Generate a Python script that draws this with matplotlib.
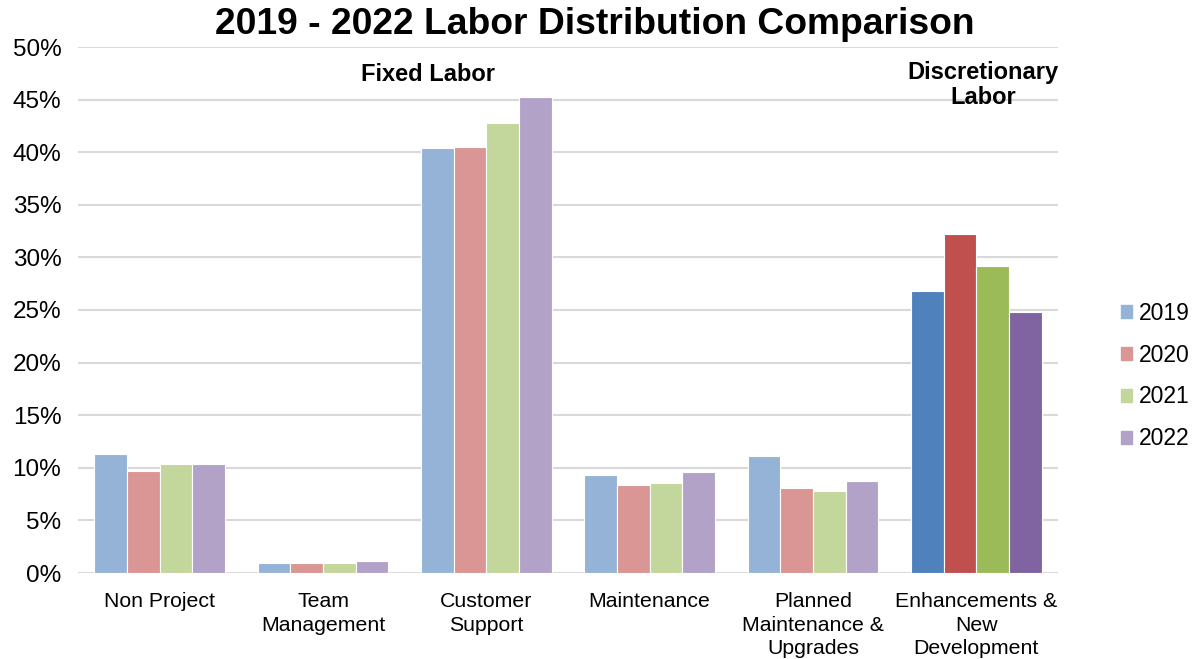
import numpy as np
import matplotlib.pyplot as plt

plt.rcParams['font.family'] = ['Liberation Sans', 'DejaVu Sans']

# categories and values (percent)
categories = ['Non Project', 'Team\nManagement', 'Customer\nSupport', 'Maintenance',
              'Planned\nMaintenance &\nUpgrades', 'Enhancements &\nNew\nDevelopment']
years = ['2019', '2020', '2021', '2022']
v2019 = [11.3, 0.95, 40.4, 9.3, 11.1, 26.8]
v2020 = [9.65, 0.95, 40.5, 8.4, 8.1, 32.2]
v2021 = [10.4, 0.95, 42.8, 8.6, 7.8, 29.2]
v2022 = [10.4, 1.1, 45.2, 9.6, 8.75, 24.8]
values = [v2019, v2020, v2021, v2022]

light = ['#95B3D7', '#D99694', '#C3D69B', '#B3A2C7']
dark = ['#4F81BD', '#C0504D', '#9BBB59', '#8064A2']

fig = plt.figure(figsize=(11.99, 6.59), dpi=100)
ax = fig.add_axes([78 / 1199, 1 - 573 / 659, 980 / 1199, 526 / 659])

x = np.arange(len(categories))
w = 0.2
for i, yr in enumerate(years):
    cols = [light[i]] * (len(categories) - 1) + [dark[i]]
    ax.bar(x + (i - 1.5) * w, values[i], w, color=cols, edgecolor='white',
           linewidth=0.8, label=yr, zorder=3)

ax.set_xlim(-0.5, len(categories) - 0.5)
ax.set_ylim(0, 50)
ax.set_yticks(np.arange(0, 51, 5))
ax.set_yticklabels([f'{t}%' for t in range(0, 51, 5)], fontsize=17.5)
ax.set_xticks(x)
ax.set_xticklabels(categories, fontsize=15.3, linespacing=1.3)
ax.tick_params(axis='y', length=0, pad=12)
ax.tick_params(axis='x', length=0, pad=14)
ax.grid(axis='y', color='#D9D9D9', linewidth=1.5, zorder=0)
for s in ['top', 'right', 'left', 'bottom']:
    ax.spines[s].set_visible(False)

ax.text(1.64, 47.4, 'Fixed Labor', fontsize=17, fontweight='bold', ha='center', va='center')
ax.text(5.04, 46.4, 'Discretionary\nLabor', fontsize=17, fontweight='bold', ha='center', va='center',
        linespacing=1.1)

fig.text(0.496, 1 - 24 / 659, '2019 - 2022 Labor Distribution Comparison', fontsize=26.8,
         fontweight='bold', ha='center', va='center')

leg = fig.legend([plt.Rectangle((0, 0), 1, 1, color=c) for c in light], years,
                 loc='center left', bbox_to_anchor=(1121 / 1199, 1 - 376 / 659),
                 frameon=False, fontsize=16.5, handlelength=0.5, handleheight=0.5,
                 handletextpad=0.3, labelspacing=0.82, borderpad=0, borderaxespad=0)

fig.savefig('out.png', dpi=100)
